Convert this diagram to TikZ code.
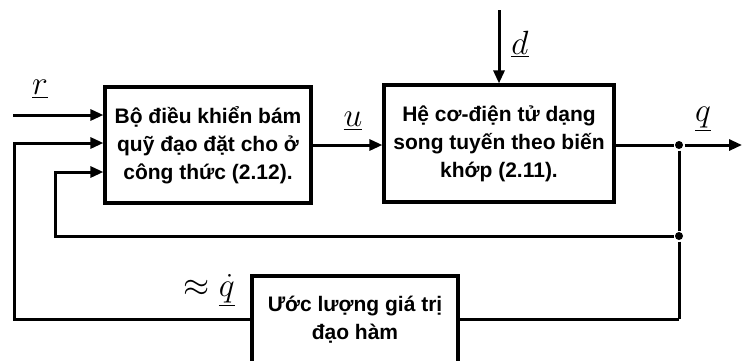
\documentclass[tikz,border=0pt]{standalone}
\usepackage{fontspec}
\setmainfont{Liberation Sans}
\usetikzlibrary{arrows.meta}

% enlarged math label (the math fonts stop growing near 25pt)
\newcommand{\biglbl}[1]{\scalebox{1.35}{$#1$}}

\begin{document}
\begin{tikzpicture}[x=1pt, y=-1pt,
  line width=3pt,
  blk/.style={draw, line width=3.2pt, align=center, inner sep=0pt,
    font=\fontsize{21}{28}\selectfont\bfseries},
  sig/.style={-{Triangle[length=13pt,width=11pt]}},
  lbl/.style={inner sep=0pt, font=\fontsize{24.88}{30}\selectfont},
  dot/.style={circle, fill, inner sep=0pt, minimum size=8pt}]
\useasboundingbox (0,0) rectangle (743,360);

% blocks
\node[blk, minimum width=206pt, minimum height=116pt] (ctrl) at (208,145)
  {Bộ điều khiển bám\\quỹ đạo đặt cho ở\\công thức (2.12).};
\node[blk, minimum width=230pt, minimum height=117pt] (plant) at (499,143.5)
  {Hệ cơ-điện tử dạng\\song tuyến theo biến\\khớp (2.11).};
\node[blk, minimum width=206pt, minimum height=88pt] (est) at (355,320)
  {Ước lượng giá trị\\đạo hàm};

% branch points on the output line
\node[dot] (j1) at (679,145) {};
\node[dot] (j2) at (679,236) {};

% free ends and corners
\coordinate (rin) at (13,115);
\coordinate (dtop) at (499,10);
\coordinate (qout) at (742,145);
\coordinate (c1) at (55,236);
\coordinate (c2) at (55,172);
\coordinate (c3) at (679,319);
\coordinate (c4) at (14,319);
\coordinate (c5) at (14,143);

% signals
\draw[sig] (rin) -- (rin -| ctrl.west);
\draw[sig] (ctrl.east |- 0,145) -- (plant.west |- 0,145);
\draw[sig] (dtop) -- (plant.north);
\draw (plant.east |- j1) -- (j1);
\draw[sig] (j1) -- (qout);
\draw (j1) -- (j2) -- (c3);
\draw (c3) -- (est.east |- c3);
\draw[sig] (j2) -- (c1) -- (c2) -- (c2 -| ctrl.west);
\draw[sig] (est.west |- c4) -- (c4) -- (c5) -- (c5 -| ctrl.west);

% labels
\node[lbl] (lr) at (40,89) {\biglbl{\underline{r}}};
\node[lbl] (lu) at (353,121) {\biglbl{\underline{u}}};
\node[lbl] (ld) at (520,44) {\biglbl{\underline{d}}};
\node[lbl] (lq) at (703,119) {\biglbl{\underline{q}}};
\node[lbl] (lqd) at (209,290) {\biglbl{\approx\underline{\dot q}}};
\end{tikzpicture}
\end{document}
